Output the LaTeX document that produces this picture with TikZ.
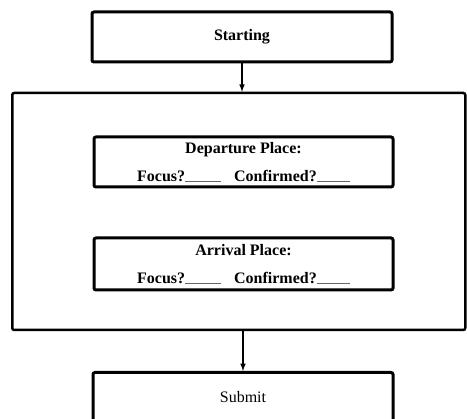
\documentclass[tikz,border=0pt]{standalone}
\usepackage{fontspec}
\setmainfont{Liberation Serif}
\usepackage{tikz}

\begin{document}
\begin{tikzpicture}[x=1pt, y=-1pt,
            box node/.style={rectangle, draw, line width=3pt, rounded corners=2pt, minimum width=300pt, minimum height=50pt, inner sep=0pt, align=center, font=\fontsize{16}{28}\selectfont\bfseries},
            frame node/.style={rectangle, draw, line width=2.5pt, rounded corners=2pt, minimum width=453pt, minimum height=237pt, inner sep=0pt},
            ]
            \useasboundingbox (0,0) rectangle (467,419);
            \def\blank#1{\textcolor{black!60}{\rule{#1}{0.6pt}}}

            \node[box node] (start) at (242,37) {Starting};
            \node[frame node] (outer) at (238.75,211.5) {};
            \node[box node, minimum width=299pt] (dep) at (243.5,162) {Departure Place:\\Focus?\blank{36pt}\hspace{13pt}Confirmed?\blank{33pt}};
            \node[box node, minimum width=299pt, minimum height=52pt] (arr) at (243.5,264) {Arrival Place:\\Focus?\blank{36pt}\hspace{13pt}Confirmed?\blank{33pt}};
            \node[box node, font=\fontsize{16}{28}\selectfont] (submit) at (243,397.5) {Submit};

            \draw[line width=1.5pt, -latex] (start.south) -- (start.south |- outer.north);
            \draw[line width=1.5pt, -latex] (outer.south -| submit.north) -- (submit.north);
        \end{tikzpicture}
\end{document}
